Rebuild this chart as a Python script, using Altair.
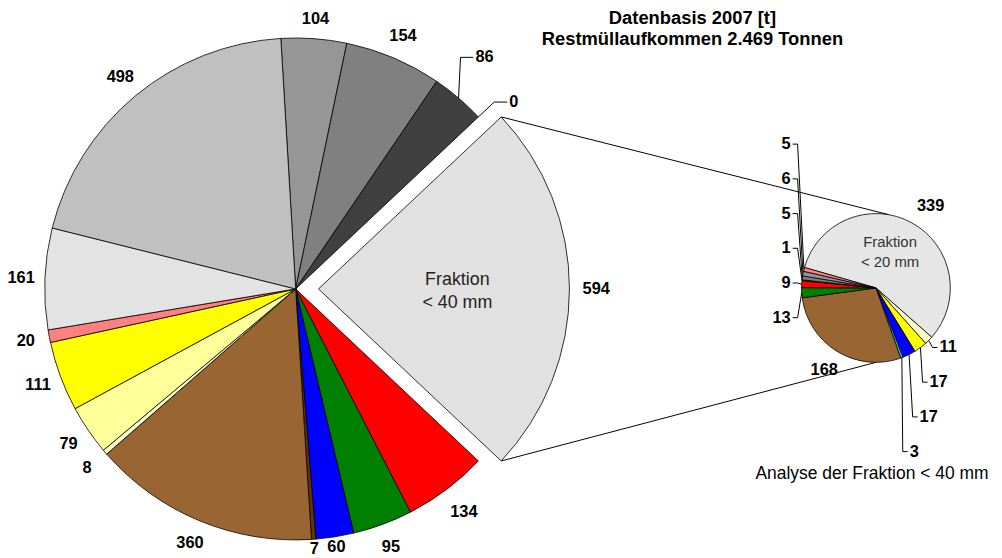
import math
import altair as alt
import pandas as pd

# ---------------- data ----------------
main_values = [104, 154, 86, 0, 594, 134, 95, 60, 7, 360, 8, 79, 111, 20, 161, 498]
main_keys = [f"m{i:02d}" for i in range(len(main_values))]
main_colors = ["#969696", "#808080", "#404040", "#000000", "#e1e1e1", "#ff0000",
               "#008000", "#0000ff", "#663300", "#996633", "#ffffcc", "#ffff99",
               "#ffff00", "#ff8080", "#e3e3e3", "#c0c0c0"]

small_values = [339, 11, 17, 17, 3, 168, 13, 9, 1, 5, 6, 5]
small_keys = [f"s{i:02d}" for i in range(len(small_values))]
small_colors = ["#e6e6e6", "#ffffcc", "#ffff00", "#0000ff", "#33cccc", "#996633",
                "#008000", "#ff0000", "#404040", "#808080", "#969696", "#ff8080"]

title_lines = ["Datenbasis 2007 [t]", "Restmüllaufkommen 2.469 Tonnen"]
main_inner_text = "Fraktion\n< 40 mm"
small_inner_text = "Fraktion\n< 20 mm"
small_caption = "Analyse der Fraktion < 40 mm"

# ---------------- layout ----------------
FONT = "Liberation Sans"
CX, CY, R = 290, 281, 253
LABEL_R = 277
EXPLODE = 23
EXPL = 4
SX, SY, SR = 875, 280, 75
SMALL_LABEL_R = 100
SMALL_START_DEG = -74.0
LBL_SIZE = 16.5
# label radius groups (label layout only)
MAIN_LABEL_RADII = {273: [0], 263: [7, 8], 282: [5], 280: [4]}

main_total = sum(main_values)
small_total = sum(small_values)
a0 = 90.0 - (sum(main_values[:EXPL]) + main_values[EXPL] / 2) / main_total * 360.0


def build(values, keys):
    df = pd.DataFrame({"key": keys, "value": values})
    df["end"] = df["value"].cumsum()
    df["start"] = df["end"] - df["value"]
    df["mid"] = (df["start"] + df["end"]) / 2
    df["label"] = df["value"].astype(str)
    return df


main_df = build(main_values, main_keys)
small_df = build(small_values, small_keys)


def main_deg(v):
    return a0 + v / main_total * 360.0


def small_deg(v):
    return SMALL_START_DEG + v / small_total * 360.0


def pt(cx, cy, r, deg):
    a = math.radians(deg)
    return cx + r * math.sin(a), cy - r * math.cos(a)


def in_keys(keys):
    return "indexof(['" + "','".join(keys) + "'], datum.key) >= 0"


main_theta = alt.Scale(domain=[0, main_total],
                       range=[math.radians(a0), math.radians(a0) + 2 * math.pi])
small_theta = alt.Scale(domain=[0, small_total],
                        range=[math.radians(SMALL_START_DEG),
                               math.radians(SMALL_START_DEG) + 2 * math.pi])
color_scale = alt.Scale(domain=main_keys + small_keys, range=main_colors + small_colors)

expl_mid_deg = main_deg(main_df.loc[EXPL, "mid"])
EX_X = CX + EXPLODE * math.sin(math.radians(expl_mid_deg))
EX_Y = CY - EXPLODE * math.cos(math.radians(expl_mid_deg))
expl_key = main_keys[EXPL]

# ---------------- main pie ----------------
arc_style = dict(stroke="black", strokeWidth=0.8, strokeJoin="round")

main_arcs = alt.Chart(main_df).transform_filter(
    f"datum.value > 0 && datum.key != '{expl_key}'"
).mark_arc(radius=R, **arc_style).encode(
    theta=alt.Theta("start:Q", scale=main_theta, stack=False),
    theta2="end:Q",
    color=alt.Color("key:N", scale=color_scale, legend=None),
    x=alt.value(CX), y=alt.value(CY),
)

expl_arc = alt.Chart(main_df).transform_filter(
    f"datum.key == '{expl_key}'"
).mark_arc(radius=R, **arc_style).encode(
    theta=alt.Theta("start:Q", scale=main_theta, stack=False),
    theta2="end:Q",
    color=alt.Color("key:N", scale=color_scale, legend=None),
    x=alt.value(EX_X), y=alt.value(EX_Y),
)

main_leader_idx = [2, 3]
main_leader_off = {2: (17, -41), 3: (31, -15)}

special = set(main_leader_idx)
for idxs in MAIN_LABEL_RADII.values():
    special |= set(idxs)
default_idx = [i for i in range(len(main_values)) if i not in special]


def main_label_layer(idxs, radius):
    ox, oy = (EX_X, EX_Y) if EXPL in idxs else (CX, CY)
    return alt.Chart(main_df).transform_filter(
        in_keys([main_keys[i] for i in idxs])
    ).mark_text(radius=radius, font=FONT, fontSize=LBL_SIZE, fontWeight="bold",
                color="black", baseline="middle").encode(
        theta=alt.Theta("mid:Q", scale=main_theta, stack=False),
        text="label:N",
        x=alt.value(ox), y=alt.value(oy),
    )


label_layers = [main_label_layer(default_idx, LABEL_R)]
for rad, idxs in MAIN_LABEL_RADII.items():
    label_layers.append(main_label_layer(idxs, rad))

expl_inner = alt.Chart(main_df).transform_filter(
    f"datum.key == '{expl_key}'"
).mark_text(
    radius=140, font=FONT, fontSize=18, color="#222222", baseline="middle",
    lineBreak="\n", lineHeight=23).encode(
    theta=alt.Theta("mid:Q", scale=main_theta, stack=False),
    text=alt.value(main_inner_text),
    x=alt.value(EX_X), y=alt.value(EX_Y - 9),
)

main_group = alt.layer(main_arcs, expl_arc, *label_layers, expl_inner)

# ---------------- small pie ----------------
small_arcs = alt.Chart(small_df).mark_arc(radius=SR, **arc_style).encode(
    theta=alt.Theta("start:Q", scale=small_theta, stack=False),
    theta2="end:Q",
    color=alt.Color("key:N", scale=color_scale, legend=None),
    x=alt.value(SX), y=alt.value(SY),
)


def small_label_layer(idx, dx, dy):
    return alt.Chart(small_df).transform_filter(
        f"datum.key == '{small_keys[idx]}'"
    ).mark_text(radius=SMALL_LABEL_R, font=FONT, fontSize=LBL_SIZE, fontWeight="bold",
                color="black", baseline="middle", dx=dx, dy=dy).encode(
        theta=alt.Theta("mid:Q", scale=small_theta, stack=False),
        text="label:N",
        x=alt.value(SX), y=alt.value(SY),
    )


small_lbl_339 = small_label_layer(0, 7, 5)
small_lbl_168 = small_label_layer(5, 0, -3)

small_inner = alt.Chart(small_df).transform_filter(
    f"datum.key == '{small_keys[0]}'"
).mark_text(
    radius=40, font=FONT, fontSize=15, color="#333333", baseline="middle",
    lineBreak="\n", lineHeight=20).encode(
    theta=alt.Theta("mid:Q", scale=small_theta, stack=False),
    text=alt.value(small_inner_text),
    x=alt.value(SX - 5), y=alt.value(SY - 11),
)

small_group = alt.layer(small_arcs, small_lbl_339, small_lbl_168, small_inner)

# ---------------- leaders (derived from slice geometry) ----------------
line_rows = []
text_rows = []

for i in main_leader_idx:
    ex, ey = pt(CX, CY, R, main_deg(main_df.loc[i, "mid"]))
    dx, dy = main_leader_off[i]
    lx, ly = ex + dx, ey + dy
    lid = f"M{i}"
    for s, (px, py) in enumerate([(ex, ey), (lx - 15, ly), (lx - 2, ly)]):
        line_rows.append({"id": lid, "seq": s, "px": px, "py": py})
    text_rows.append({"side": "L", "x": lx, "y": ly, "text": main_df.loc[i, "label"]})

left_idx = [11, 10, 9, 8, 7, 6]
for k, i in enumerate(left_idx):
    ex, ey = pt(SX, SY, SR, small_deg(small_df.loc[i, "mid"]))
    lx, ly = SX - 86, SY - 145 + 35 * k
    lid = f"S{i}"
    for s, (px, py) in enumerate([(lx + 2, ly), (lx + 7, ly), (ex, ey)]):
        line_rows.append({"id": lid, "seq": s, "px": px, "py": py})
    text_rows.append({"side": "R", "x": lx, "y": ly, "text": small_df.loc[i, "label"]})

right_idx = [1, 2, 3, 4]
for k, i in enumerate(right_idx):
    ex, ey = pt(SX, SY, SR, small_deg(small_df.loc[i, "mid"]))
    lx, ly = SX + 64 - 10 * k, SY + 60 + 35 * k
    lid = f"S{i}"
    for s, (px, py) in enumerate([(ex, ey), (lx - 7, ly), (lx - 2, ly)]):
        line_rows.append({"id": lid, "seq": s, "px": px, "py": py})
    text_rows.append({"side": "L", "x": lx, "y": ly, "text": small_df.loc[i, "label"]})

lines_df = pd.DataFrame(line_rows)
ltext_df = pd.DataFrame(text_rows)

leader_lines = alt.Chart(lines_df).mark_line(color="black", strokeWidth=1).encode(
    x=alt.X("px:Q", scale=None, axis=None),
    y=alt.Y("py:Q", scale=None, axis=None),
    detail="id:N",
    order="seq:Q",
)

leader_text_left = alt.Chart(ltext_df).transform_filter("datum.side == 'L'").mark_text(
    align="left", baseline="middle", font=FONT, fontSize=LBL_SIZE, fontWeight="bold",
    color="black").encode(
    x=alt.X("x:Q", scale=None, axis=None), y=alt.Y("y:Q", scale=None, axis=None), text="text:N")

leader_text_right = alt.Chart(ltext_df).transform_filter("datum.side == 'R'").mark_text(
    align="right", baseline="middle", font=FONT, fontSize=LBL_SIZE, fontWeight="bold",
    color="black").encode(
    x=alt.X("x:Q", scale=None, axis=None), y=alt.Y("y:Q", scale=None, axis=None), text="text:N")

# ---------------- connectors between the pies ----------------
t1 = pt(EX_X, EX_Y, R, main_deg(main_df.loc[EXPL, "start"]))
t2 = pt(SX, SY, SR, 10.0)
b1 = pt(EX_X, EX_Y, R, main_deg(main_df.loc[EXPL, "end"]))
b2 = pt(SX, SY, SR, 180.0)
conn_df = pd.DataFrame({"x": [t1[0], b1[0]], "y": [t1[1], b1[1]],
                        "x2": [t2[0], b2[0]], "y2": [t2[1], b2[1]]})
connectors = alt.Chart(conn_df).mark_rule(color="black", strokeWidth=1).encode(
    x=alt.X("x:Q", scale=None, axis=None), y=alt.Y("y:Q", scale=None, axis=None),
    x2="x2:Q", y2="y2:Q")

# ---------------- titles ----------------
title_df = pd.DataFrame({"t": title_lines, "ty": [14, 35]})
titles = alt.Chart(title_df).mark_text(
    font=FONT, fontSize=18.5, fontWeight="bold", color="black", baseline="alphabetic"
).encode(text="t:N", x=alt.value(690), y=alt.Y("ty:Q", scale=None, axis=None))

caption = alt.Chart(pd.DataFrame({"t": [small_caption]})).mark_text(
    font=FONT, fontSize=17.6, color="black", baseline="alphabetic"
).encode(text="t:N", x=alt.value(SX - 4), y=alt.value(473))

chart = alt.layer(
    connectors, main_group, small_group, leader_lines,
    leader_text_left, leader_text_right, titles, caption
).resolve_scale(theta="independent").properties(
    width=994, height=550, autosize="none", padding=0
).configure_view(stroke=None)

chart.save("out.html", embed_options={"renderer": "svg", "actions": False})
